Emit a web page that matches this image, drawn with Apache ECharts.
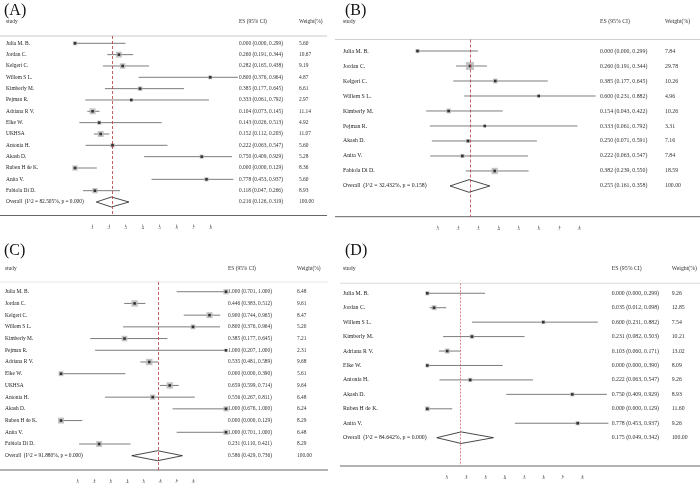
<!DOCTYPE html>
<html>
<head>
<meta charset="utf-8" />
<title>forest plots</title>
<script src="https://cdn.jsdelivr.net/npm/echarts@6/dist/echarts.min.js"></script>
<style>
  html, body { margin: 0; padding: 0; background: #fff; }
  #main { width: 700px; height: 489px; }
</style>
</head>
<body>
<div id="main"></div>
<script>
// ---- data ----
var xTicks = [0.1, 0.2, 0.3, 0.4, 0.5, 0.6, 0.7, 0.8];

// (A)
var studiesA = ['Julia M. B.', 'Jordan C.', 'Kelgeri C.', 'Willem S L.', 'Kimberly M.', 'Pejman R.', 'Adriana R V.', 'Elke W.', 'UKHSA', 'Antonia H.', 'Akash D.', 'Ruben H de K.', 'Anita V.', 'Fabiola Di D.'];
var esA = [0.000, 0.260, 0.282, 0.800, 0.385, 0.333, 0.104, 0.143, 0.152, 0.222, 0.750, 0.000, 0.778, 0.118];
var loA = [0.000, 0.191, 0.165, 0.376, 0.177, 0.061, 0.073, 0.026, 0.112, 0.063, 0.409, 0.000, 0.453, 0.047];
var hiA = [0.299, 0.344, 0.438, 0.964, 0.645, 0.792, 0.145, 0.513, 0.203, 0.547, 0.929, 0.129, 0.937, 0.266];
var wtA = [5.60, 10.67, 9.19, 4.87, 6.61, 2.97, 11.14, 4.92, 11.07, 5.60, 5.28, 8.36, 5.60, 8.93];
var overallA = [0.216, 0.126, 0.319];
var overallLabelA = 'Overall  (I^2 = 82.505%, p = 0.000)';

// (B)
var studiesB = ['Julia M. B.', 'Jordan C.', 'Kelgeri C.', 'Willem S L.', 'Kimberly M.', 'Pejman R.', 'Akash D.', 'Anita V.', 'Fabiola Di D.'];
var esB = [0.000, 0.260, 0.385, 0.600, 0.154, 0.333, 0.250, 0.222, 0.382];
var loB = [0.000, 0.191, 0.177, 0.231, 0.043, 0.061, 0.071, 0.063, 0.239];
var hiB = [0.299, 0.344, 0.645, 0.882, 0.422, 0.792, 0.591, 0.547, 0.550];
var wtB = [7.84, 29.78, 10.26, 4.96, 10.26, 3.31, 7.16, 7.84, 18.59];
var overallB = [0.255, 0.161, 0.358];
var overallLabelB = 'Overall  (I^2 = 32.432%, p = 0.158)';

// (C)
var studiesC = ['Julia M. B.', 'Jordan C.', 'Kelgeri C.', 'Willem S L.', 'Kimberly M.', 'Pejman R.', 'Adriana R V.', 'Elke W.', 'UKHSA', 'Antonia H.', 'Akash D.', 'Ruben H de K.', 'Anita V.', 'Fabiola Di D.'];
var esC = [1.000, 0.446, 0.900, 0.800, 0.385, 1.000, 0.535, 0.000, 0.659, 0.556, 1.000, 0.000, 1.000, 0.231];
var loC = [0.701, 0.383, 0.744, 0.376, 0.177, 0.207, 0.481, 0.000, 0.599, 0.267, 0.676, 0.000, 0.701, 0.110];
var hiC = [1.000, 0.512, 0.965, 0.964, 0.645, 1.000, 0.589, 0.390, 0.714, 0.811, 1.000, 0.129, 1.000, 0.421];
var wtC = [6.48, 9.61, 8.47, 5.20, 7.21, 2.31, 9.68, 5.61, 9.64, 6.48, 6.24, 8.29, 6.48, 8.29];
var overallC = [0.586, 0.429, 0.736];
var overallLabelC = 'Overall  (I^2 = 91.880%, p = 0.000)';

// (D)
var studiesD = ['Julia M. B.', 'Jordan C.', 'Willem S L.', 'Kimberly M.', 'Adriana R V.', 'Elke W.', 'Antonia H.', 'Akash D.', 'Ruben H de K.', 'Anita V.'];
var esD = [0.000, 0.035, 0.600, 0.231, 0.103, 0.000, 0.222, 0.750, 0.000, 0.778];
var loD = [0.000, 0.012, 0.231, 0.082, 0.060, 0.000, 0.063, 0.409, 0.000, 0.453];
var hiD = [0.299, 0.098, 0.882, 0.503, 0.171, 0.390, 0.547, 0.929, 0.129, 0.937];
var wtD = [9.26, 12.85, 7.54, 10.21, 13.02, 8.09, 9.26, 8.93, 11.60, 9.26];
var overallD = [0.175, 0.049, 0.342];
var overallLabelD = 'Overall  (I^2 = 84.642%, p = 0.000)';

var serif = '"Liberation Serif", "DejaVu Serif", serif';

var option = {
  backgroundColor: '#fff',
  animation: false,
  grid: [], xAxis: [], yAxis: [], series: [], graphic: []
};

// one forest plot panel
function addPanel(p) {
  var gi = option.grid.length;
  var n = p.studies.length;
  var names = p.studies.concat([p.overallLabel]);
  var es = p.es.concat([p.overall[0]]);
  var lo = p.lo.concat([p.overall[1]]);
  var hi = p.hi.concat([p.overall[2]]);
  var wt = p.wt.concat([100]);
  var rows = [];
  for (var i = 0; i <= n; i++) rows.push(i);

  option.grid.push({ left: p.left, right: p.right, top: p.top, bottom: p.bottom });

  option.xAxis.push({
    type: 'value', gridIndex: gi, min: 0, max: 1, offset: 9, position: 'bottom',
    axisLine: { show: false, onZero: false },
    splitLine: { show: false },
    axisTick: { customValues: xTicks, length: 2.5, lineStyle: { color: '#666', width: 0.6 } },
    axisLabel: {
      customValues: xTicks, margin: 1, fontSize: 4, color: '#444', fontFamily: serif,
      formatter: function (v) { return v.toFixed(1).replace('0.', '.'); }
    }
  });

  option.yAxis.push({
    type: 'value', gridIndex: gi, inverse: true, min: p.yMin, max: p.yMax,
    axisLine: { show: false, onZero: false }, axisTick: { show: false }, splitLine: { show: false },
    axisLabel: {
      customValues: rows, align: 'left', margin: p.left - p.textX,
      fontSize: p.font, fontFamily: serif, color: '#222',
      formatter: function (v) {
        var txt = es[v].toFixed(3) + ' (' + lo[v].toFixed(3) + ', ' + hi[v].toFixed(3) + ')';
        return '{n|' + names[v] + '}{e|' + txt + '}{w|' + wt[v].toFixed(2) + '}';
      },
      rich: {
        n: { width: p.esX - p.textX, fontSize: p.font, fontFamily: serif, color: '#222' },
        e: { width: p.wX - p.esX, fontSize: p.font, fontFamily: serif, color: '#333' },
        w: { fontSize: p.font, fontFamily: serif, color: '#333' }
      }
    }
  });

  var ciData = [], sqData = [], dotData = [];
  for (var j = 0; j < n; j++) {
    ciData.push([j, p.lo[j], p.hi[j]]);
    sqData.push([p.es[j], j, p.wt[j]]);
    dotData.push([p.es[j], j]);
  }

  // confidence intervals
  option.series.push({
    type: 'custom', xAxisIndex: gi, yAxisIndex: gi, z: 1, silent: true,
    encode: { x: [1, 2], y: 0 },
    data: ciData,
    renderItem: function (params, api) {
      var a = api.coord([api.value(1), api.value(0)]);
      var b = api.coord([api.value(2), api.value(0)]);
      return { type: 'line', shape: { x1: a[0], y1: a[1], x2: b[0], y2: b[1] },
        style: { stroke: '#5a5a5a', lineWidth: 0.8 } };
    }
  });

  // weight squares
  option.series.push({
    type: 'scatter', xAxisIndex: gi, yAxisIndex: gi, z: 2, silent: true, clip: false,
    symbol: 'rect',
    symbolSize: function (val) { return p.sq * Math.sqrt(val[2]); },
    itemStyle: { color: '#b5b5b5' },
    data: sqData
  });

  // point estimates + pooled line
  option.series.push({
    type: 'scatter', xAxisIndex: gi, yAxisIndex: gi, z: 3, silent: true, clip: false,
    symbol: 'rect', symbolSize: 2.6,
    itemStyle: { color: '#111' },
    data: dotData,
    markLine: {
      silent: true, symbol: 'none', animation: false,
      label: { show: false },
      lineStyle: { color: p.red, width: 0.8, type: p.redType },
      data: [{ xAxis: p.overall[0] }]
    }
  });

  // pooled diamond
  option.series.push({
    type: 'custom', xAxisIndex: gi, yAxisIndex: gi, z: 4, silent: true,
    encode: { x: [0, 1, 2], y: 3 },
    data: [[p.overall[1], p.overall[0], p.overall[2], n]],
    renderItem: function (params, api) {
      var l = api.coord([api.value(0), api.value(3)]);
      var c = api.coord([api.value(1), api.value(3)]);
      var r = api.coord([api.value(2), api.value(3)]);
      var h = p.dia;
      return { type: 'polygon',
        shape: { points: [[l[0], l[1]], [c[0], c[1] - h], [r[0], r[1]], [c[0], c[1] + h]] },
        style: { stroke: '#1a1a1a', lineWidth: 0.8, fill: '#fff' } };
    }
  });

  // header, separator, axis line, panel letter
  var hs = { font: p.font + 'px ' + serif, fill: '#333', verticalAlign: 'middle' };
  option.graphic.push(
    { type: 'text', x: p.letterX, y: p.letterY, style: { text: p.letter, font: '16px ' + serif, fill: '#111', verticalAlign: 'middle' } },
    { type: 'text', x: p.textX, y: p.headY, style: Object.assign({ text: 'study' }, hs) },
    { type: 'text', x: p.esX, y: p.headY, style: Object.assign({ text: 'ES (95% CI)' }, hs) },
    { type: 'text', x: p.wX, y: p.headY, style: Object.assign({ text: 'Weight(%)' }, hs) },
    { type: 'line', shape: { x1: p.lineX1, y1: p.top, x2: p.lineX2, y2: p.top }, style: { stroke: p.sepColor, lineWidth: 0.8 } },
    { type: 'line', shape: { x1: p.lineX1, y1: 489 - p.bottom, x2: p.lineX2, y2: 489 - p.bottom }, style: { stroke: '#555', lineWidth: 0.9 } }
  );
}

addPanel({
  letter: '(A)', letterX: 4, letterY: 11,
  studies: studiesA, es: esA, lo: loA, hi: hiA, wt: wtA, overall: overallA, overallLabel: overallLabelA,
  left: 75, right: 456, top: 36, bottom: 273.5, yMin: -0.644, yMax: 15.19,
  textX: 6, esX: 239, wX: 299, headY: 22, font: 5.4, sq: 1.8, dia: 5,
  lineX1: 0, lineX2: 327, sepColor: '#bdbdbd', red: '#b23a3a', redType: [3, 2]
});
addPanel({
  letter: '(B)', letterX: 345, letterY: 11,
  studies: studiesB, es: esB, lo: loB, hi: hiB, wt: wtB, overall: overallB, overallLabel: overallLabelB,
  left: 417.5, right: 80.5, top: 39.5, bottom: 272.3, yMin: -0.767, yMax: 11.05,
  textX: 343, esX: 600, wX: 665, headY: 21, font: 5.8, sq: 1.47, dia: 6.3,
  lineX1: 335, lineX2: 700, sepColor: '#c4c4c4', red: '#b23a3a', redType: [3, 2]
});
addPanel({
  letter: '(C)', letterX: 4, letterY: 251,
  studies: studiesC, es: esC, lo: loC, hi: hiC, wt: wtC, overall: overallC, overallLabel: overallLabelC,
  left: 61, right: 474, top: 282, bottom: 19, yMin: -0.83, yMax: 15.22,
  textX: 5, esX: 228, wX: 297, headY: 269, font: 5.4, sq: 2.06, dia: 5,
  lineX1: 0, lineX2: 328, sepColor: '#e3e3e3', red: '#b23a3a', redType: [3, 2]
});
addPanel({
  letter: '(D)', letterX: 345, letterY: 251,
  studies: studiesD, es: esD, lo: loD, hi: hiD, wt: wtD, overall: overallD, overallLabel: overallLabelD,
  left: 427.3, right: 79.4, top: 283.3, bottom: 23, yMin: -0.69, yMax: 11.96,
  textX: 343, esX: 611.7, wX: 671.7, headY: 268.3, font: 5.8, sq: 1.39, dia: 5.8,
  lineX1: 340, lineX2: 700, sepColor: '#d0d0d0', red: '#d36b6b', redType: [2, 1.5]
});

var myChart = echarts.init(document.getElementById('main'));
myChart.setOption(option);
</script>
</body>
</html>
